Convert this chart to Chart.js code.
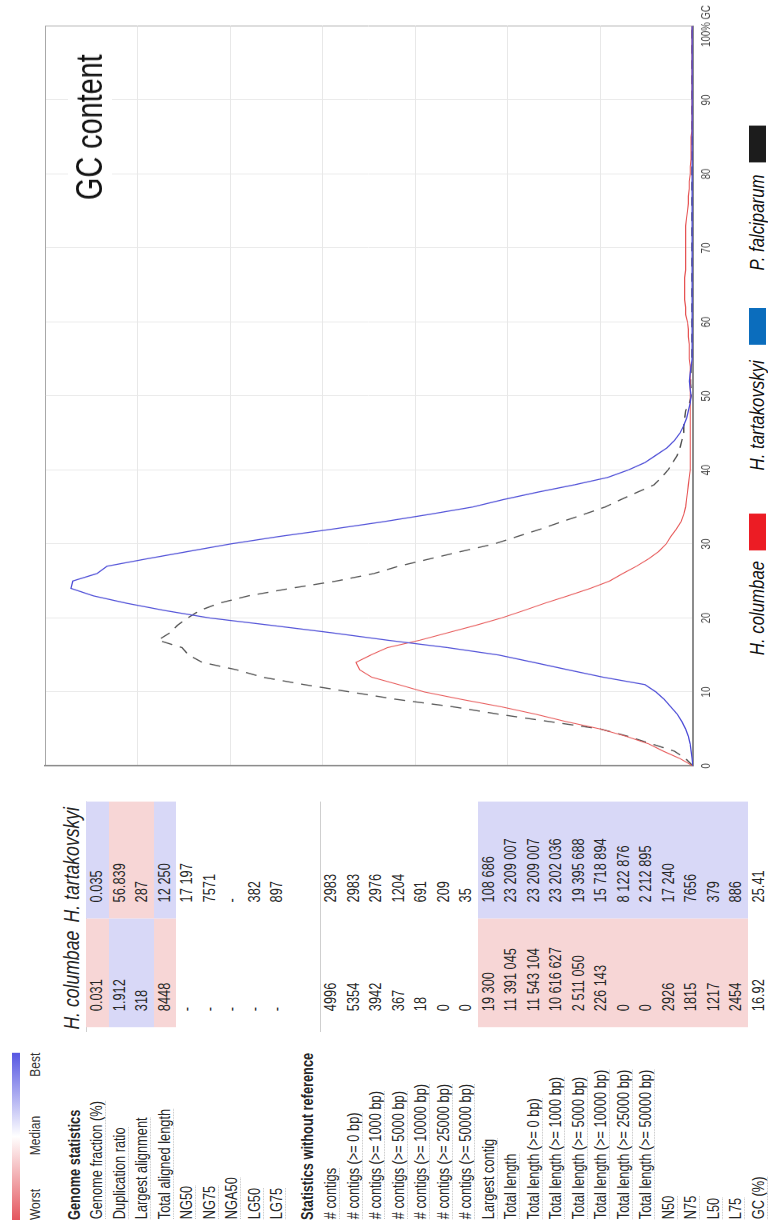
<!DOCTYPE html>
<html>
<head>
<meta charset="utf-8">
<script src="https://cdn.jsdelivr.net/npm/chart.js@4.4.1/dist/chart.umd.min.js"></script>
<style>
  html, body { margin: 0; padding: 0; background: #fff; width: 768px; height: 1224px; overflow: hidden; }
  /* The report is laid out landscape, condensed horizontally, and turned a quarter to fit the portrait page */
  #stage {
    position: absolute; left: 0; top: 0; width: 1530px; height: 768px;
    transform-origin: 0 0; transform: translate(0, 1224px) rotate(-90deg) scaleX(0.8);
    font-family: "Liberation Sans", Arial, sans-serif; color: #262626;
    background: #fff; overflow: hidden;
  }
  .abs { position: absolute; white-space: nowrap; }
  .lbl { font-size: 16px; }
  .lbl span { border-bottom: 1px dotted #c4c4c4; }
  .val { font-size: 16px; box-sizing: border-box; padding-left: 20px; }
  .grp { font-size: 16px; font-weight: bold; line-height: 20px; }
  .asm { font-size: 22px; font-style: italic; line-height: 26px; }
  .worst { background: #f7d6d6; }
  .best { background: #d8d8f7; }
  .sep { position: absolute; height: 1px; background: #cfcfcf; }
  .scale { font-size: 15px; line-height: 18px; color: #333; }
  #chartBox { position: absolute; left: 550px; top: 30px; }
  #gcTitle { position: absolute; left: 1274px; top: 68px; font-size: 36px; line-height: 44px; background: #fff; padding: 0 6px; color: #111; }
  .leg { position: absolute; font-size: 21px; font-style: italic; line-height: 24px; color: #111; }
  .legBox { position: absolute; width: 46px; height: 17px; }
</style>
</head>
<body>
<div id="stage">
  <div id="chartBox"><canvas id="gc" width="980" height="693"></canvas></div>
  <div id="gcTitle">GC content</div>
</div>
<script>
// ---- Assemblies ----
const assemblies = ['H. columbae', 'H. tartakovskyi'];
const referenceName = 'P. falciparum';

// ---- Genome statistics (aligned to the reference) ----
const genomeRows = ['Genome fraction (%)', 'Duplication ratio', 'Largest alignment', 'Total aligned length',
  'NG50', 'NG75', 'NGA50', 'LG50', 'LG75'];
const genomeColumbae = ['0.031', '1.912', '318', '8448', '-', '-', '-', '-', '-'];
const genomeTartakovskyi = ['0.035', '56.839', '287', '12 250', '17 197', '7571', '-', '382', '897'];
// which assembly scores better in each row (null: not ranked)
const genomeBest = [1, 0, 0, 1, null, null, null, null, null];

// ---- Statistics without reference ----
const refFreeRows = ['# contigs', '# contigs (>= 0 bp)', '# contigs (>= 1000 bp)', '# contigs (>= 5000 bp)',
  '# contigs (>= 10000 bp)', '# contigs (>= 25000 bp)', '# contigs (>= 50000 bp)', 'Largest contig',
  'Total length', 'Total length (>= 0 bp)', 'Total length (>= 1000 bp)', 'Total length (>= 5000 bp)',
  'Total length (>= 10000 bp)', 'Total length (>= 25000 bp)', 'Total length (>= 50000 bp)',
  'N50', 'N75', 'L50', 'L75', 'GC (%)'];
const refFreeColumbae = ['4996', '5354', '3942', '367', '18', '0', '0', '19 300',
  '11 391 045', '11 543 104', '10 616 627', '2 511 050', '226 143', '0', '0',
  '2926', '1815', '1217', '2454', '16.92'];
const refFreeTartakovskyi = ['2983', '2983', '2976', '1204', '691', '209', '35', '108 686',
  '23 209 007', '23 209 007', '23 202 036', '19 395 688', '15 718 894', '8 122 876', '2 212 895',
  '17 240', '7656', '379', '886', '25.41'];
const refFreeBest = [null, null, null, null, null, null, null, 1,
  1, 1, 1, 1, 1, 1, 1, 1, 1, 1, 1, null];

// ---- GC content distribution (windows per GC percent) ----
const gcPercent = [0, 1, 2, 3, 4, 5, 6, 7, 8, 9, 10, 11, 12, 13, 14, 15, 16, 17, 18, 19, 20,
  21, 22, 23, 24, 25, 26, 27, 28, 29, 30, 31, 32, 33, 34, 35, 36, 37, 38, 39, 40,
  41, 42, 43, 44, 45, 46, 47, 48, 49, 50, 51, 52, 53, 54, 55, 56, 57, 58, 59, 60,
  61, 62, 63, 64, 65, 66, 67, 68, 69, 70, 71, 72, 73, 74, 75, 76, 77, 78, 79, 80,
  81, 82, 83, 84, 85, 86, 87, 88, 89, 90, 91, 92, 93, 94, 95, 96, 97, 98, 99, 100];
const gcColumbae = [0, 14, 32, 48, 72, 100, 137, 170, 207, 250, 290,
  318, 347, 360, 364, 348, 330, 295, 265, 235, 207,
  183, 160, 135, 111, 90, 76, 61, 48, 37, 29,
  24, 18, 13, 10, 8, 7, 6, 5, 4, 3,
  3, 3, 3, 3, 3, 3, 3, 3, 3, 3,
  3, 3, 3, 3, 4, 4, 4, 5, 5, 6,
  8, 8, 9, 9, 9, 9, 8, 8, 8, 8,
  8, 8, 8, 7, 6, 5, 5, 4, 4, 3,
  3, 2, 2, 2, 2, 1, 1, 1, 1, 1,
  1, 1, 1, 1, 1, 1, 1, 1, 1, 1];
const gcTartakovskyi = [0, 1, 2, 3, 5, 8, 12, 17, 24, 31, 40,
  52, 97, 135, 172, 210, 265, 330, 390, 455, 522,
  570, 612, 648, 672, 670, 644, 633, 590, 545, 500,
  448, 390, 335, 285, 238, 205, 168, 128, 92, 70,
  52, 40, 28, 20, 14, 10, 7, 5, 3, 2,
  3, 4, 3, 2, 1, 1, 1, 1, 1, 1,
  1, 1, 1, 1, 1, 1, 1, 1, 1, 1,
  1, 1, 1, 1, 1, 1, 1, 1, 1, 1,
  1, 1, 1, 1, 1, 1, 1, 1, 1, 1,
  1, 1, 1, 1, 1, 1, 1, 1, 1, 1];
const gcFalciparum = [0, 8, 20, 45, 70, 100, 155, 210, 259, 320, 370,
  420, 465, 493, 530, 545, 552, 578, 565, 557, 546,
  533, 512, 480, 435, 385, 345, 318, 284, 250, 215,
  190, 165, 142, 118, 95, 78, 60, 42, 34, 27,
  22, 17, 14, 12, 10, 10, 9, 8, 4, 2,
  2, 3, 2, 2, 1, 1, 1, 1, 1, 1,
  1, 1, 1, 1, 1, 1, 1, 1, 1, 1,
  1, 1, 1, 1, 1, 1, 1, 1, 1, 1,
  1, 1, 1, 1, 1, 1, 1, 1, 1, 1,
  1, 1, 1, 1, 1, 1, 1, 1, 1, 1];
const gcTickLabels = ['0', '10', '20', '30', '40', '50', '60', '70', '80', '90', '100% GC'];

// ---- Table drawing ----
const stage = document.getElementById('stage');
const ROW_H = 22.5, LABEL_X = 6, COL_X = [246, 382], COL_W = [136, 146];

function el(cls, text, left, top, extra) {
  const d = document.createElement('div');
  d.className = 'abs ' + cls;
  d.style.left = left + 'px';
  d.style.top = top + 'px';
  if (extra) Object.assign(d.style, extra);
  if (text !== null) d.textContent = text;
  stage.appendChild(d);
  return d;
}

function drawRows(labels, colA, colB, best, top0) {
  labels.forEach((name, i) => {
    const top = top0 + i * ROW_H;
    const lab = el('lbl', null, LABEL_X, top, { height: ROW_H + 'px', lineHeight: ROW_H + 'px' });
    const s = document.createElement('span');
    s.textContent = name;
    lab.appendChild(s);
    [colA[i], colB[i]].forEach((v, c) => {
      let shade = '';
      if (best[i] !== null) shade = (best[i] === c) ? ' best' : ' worst';
      el('val' + shade, v, COL_X[c], top, {
        width: COL_W[c] + 'px', height: ROW_H + 'px', lineHeight: ROW_H + 'px'
      });
    });
  });
}

// Worst / Median / Best scale
el('', null, 5, 12, { width: '209px', height: '8px',
  background: 'linear-gradient(to right, #e4565e, #ffffff 50%, #5656e2)' });
el('scale', 'Worst', 5, 26);
el('scale', 'Median', 86, 26);
el('scale', 'Best', 184, 26);

// Header row
el('grp', 'Genome statistics', 5, 65);
el('asm', assemblies[0], 243, 59);
el('asm', assemblies[1], 377, 59);
el('sep', null, 240, 86, { width: '288px' });

drawRows(genomeRows, genomeColumbae, genomeTartakovskyi, genomeBest, 86);

el('grp', 'Statistics without reference', 5, 298);
el('sep', null, 240, 320, { width: '288px' });
drawRows(refFreeRows, refFreeColumbae, refFreeTartakovskyi, refFreeBest, 320);

// ---- Chart legend (label followed by colour swatch) ----
const legendItems = [
  { name: assemblies[0], color: '#ec1c24', textX: 711, boxX: 842 },
  { name: assemblies[1], color: '#0b6dbd', textX: 942, boxX: 1099 },
  { name: referenceName, color: '#1c1c1c', textX: 1192, boxX: 1327 }
];
legendItems.forEach(it => {
  el('leg', it.name, it.textX, 745);
  el('legBox', null, it.boxX, 749, { background: it.color });
});

// ---- GC content plot ----
const toPoints = arr => gcPercent.map((g, i) => ({ x: g, y: arr[i] }));

new Chart(document.getElementById('gc'), {
  type: 'line',
  data: {
    datasets: [
      { label: assemblies[1], data: toPoints(gcTartakovskyi), borderColor: '#4a4ad6', borderWidth: 1.3, order: 0 },
      { label: assemblies[0], data: toPoints(gcColumbae), borderColor: '#e65454', borderWidth: 1.1, order: 1 },
      { label: referenceName, data: toPoints(gcFalciparum), borderColor: '#505050', borderWidth: 1.4,
        borderDash: [11, 8], order: 2 }
    ]
  },
  options: {
    responsive: false,
    animation: false,
    devicePixelRatio: 1,
    layout: { padding: { left: 22.5, right: 32.5, top: 15, bottom: 0 } },
    elements: { point: { radius: 0 }, line: { tension: 0, fill: false } },
    plugins: { legend: { display: false }, tooltip: { enabled: false }, title: { display: false } },
    scales: {
      x: {
        type: 'linear', min: 0, max: 100,
        border: { color: '#8c8c8c', width: 2 },
        grid: { drawTicks: false, color: c => (c.tick && c.tick.value === 100) ? '#a8a8a8' : '#e8e8e8' },
        ticks: {
          stepSize: 10, padding: 6, color: '#444', maxRotation: 0,
          font: { family: '"Liberation Sans", Arial', size: 12 },
          callback: (v, i) => gcTickLabels[i]
        },
        afterFit: s => { s.height = 30; }
      },
      y: {
        min: 0, max: 700,
        border: { color: '#8c8c8c', width: 2 },
        grid: { drawTicks: false, color: c => (c.tick && c.tick.value === 700) ? '#a8a8a8' : '#e8e8e8' },
        ticks: { display: false, stepSize: 100 },
        afterFit: s => { s.width = 0; }
      }
    }
  }
});
</script>
</body>
</html>
